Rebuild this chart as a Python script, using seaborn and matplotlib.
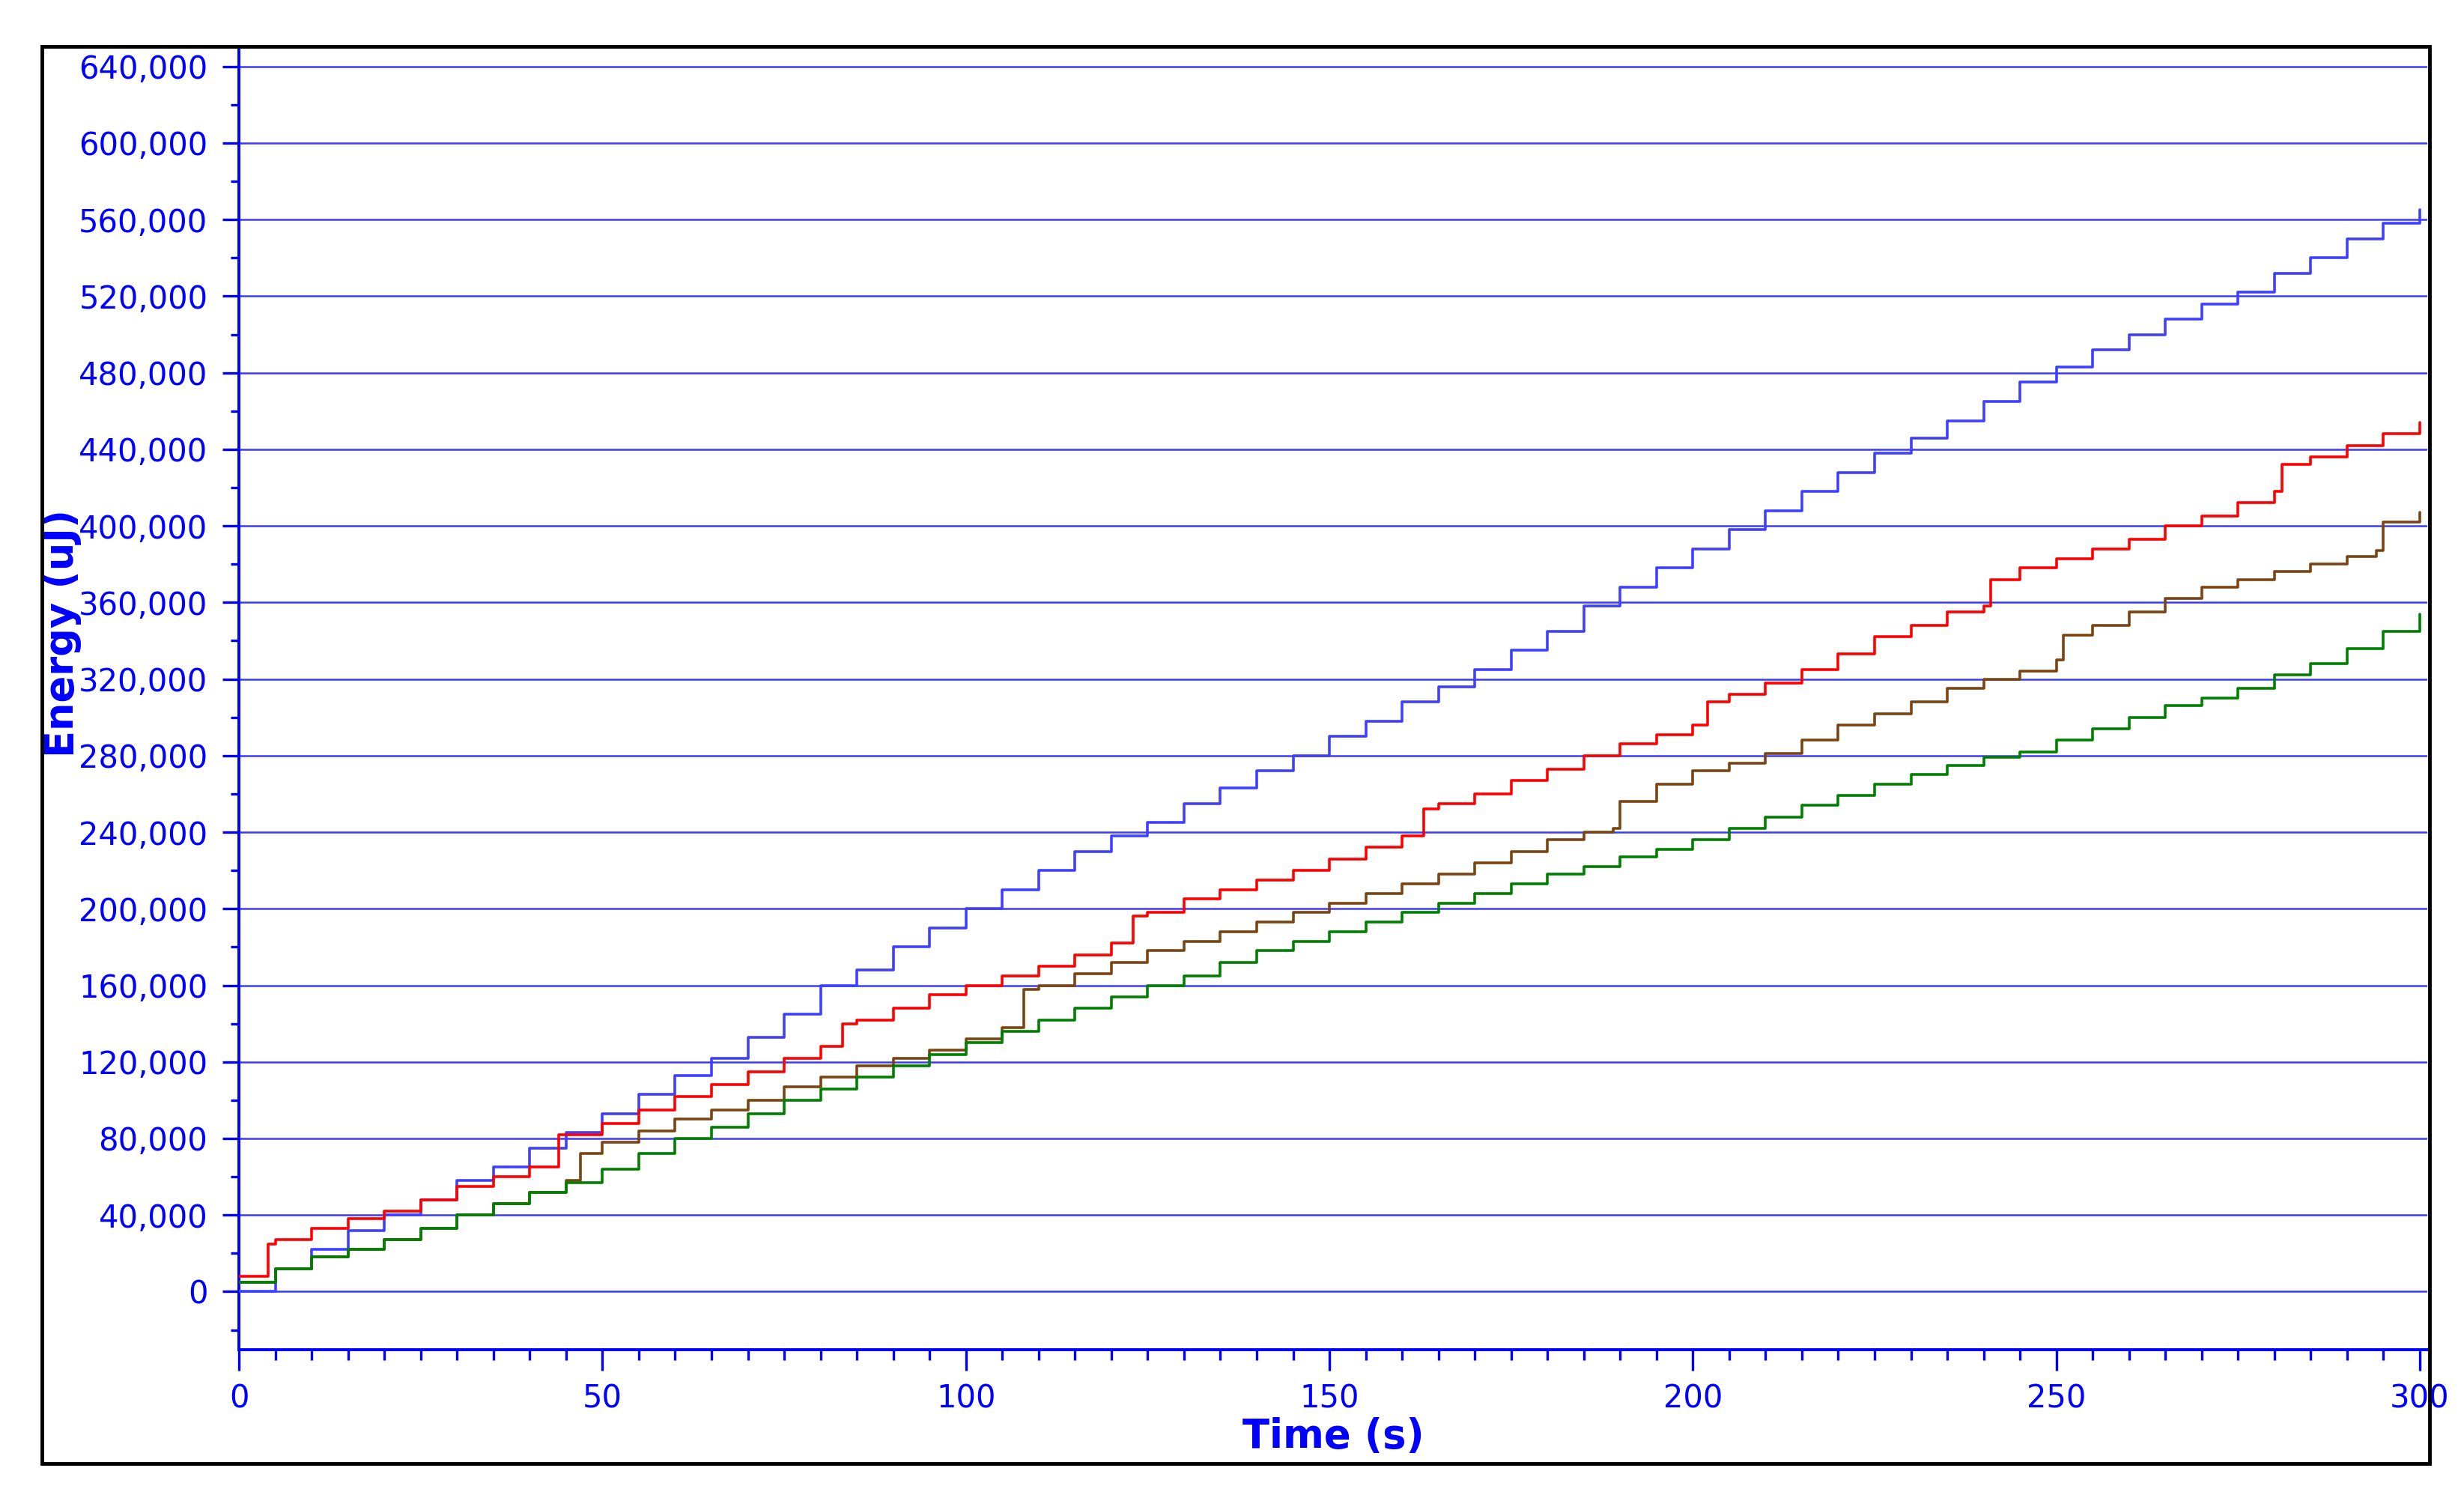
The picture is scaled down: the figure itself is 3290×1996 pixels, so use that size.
import numpy as np
import pandas as pd
import matplotlib
matplotlib.use("Agg")
import matplotlib.pyplot as plt
import matplotlib.ticker as ticker
from matplotlib.patches import Rectangle
import seaborn as sns

# Energy readings (uJ) against time (s)
blue_t = list(range(0, 305, 5))
blue_v = [0, 12000, 22000, 32000, 40000, 48000, 58000, 65000, 75000, 83000,
          93000, 103000, 113000, 122000, 133000, 145000, 160000, 168000, 180000, 190000,
          200000, 210000, 220000, 230000, 238000, 245000, 255000, 263000, 272000, 280000,
          290000, 298000, 308000, 316000, 325000, 335000, 345000, 358000, 368000, 378000,
          388000, 398000, 408000, 418000, 428000, 438000, 446000, 455000, 465000, 475000,
          483000, 492000, 500000, 508000, 516000, 522000, 532000, 540000, 550000, 558000,
          565000]

red_t = [0, 4, 5, 10, 15, 20, 25, 30, 35, 40, 44, 50, 55, 60, 65, 70, 75, 80, 83, 85,
         90, 95, 100, 105, 110, 115, 120, 123, 125, 130, 135, 140, 145, 150, 155, 160, 163,
         165, 170, 175, 180, 185, 190, 195, 200, 202, 205, 210, 215, 220, 225, 230, 235,
         240, 241, 245, 250, 255, 260, 265, 270, 275, 280, 281, 285, 290, 295, 300]
red_v = [8000, 25000, 27000, 33000, 38000, 42000, 48000, 55000, 60000, 65000, 82000,
         88000, 95000, 102000, 108000, 115000, 122000, 128000, 140000, 142000,
         148000, 155000, 160000, 165000, 170000, 176000, 182000, 196000, 198000, 205000,
         210000, 215000, 220000, 226000, 232000, 238000, 252000, 255000, 260000, 267000,
         273000, 280000, 286000, 291000, 296000, 308000, 312000, 318000, 325000, 333000,
         342000, 348000, 355000, 358000, 372000, 378000, 383000, 388000, 393000, 400000,
         405000, 412000, 418000, 432000, 436000, 442000, 448000, 454000]

brown_t = [0, 5, 10, 15, 20, 25, 30, 35, 40, 45, 47, 50, 55, 60, 65, 70, 75, 80, 85, 90,
           95, 100, 105, 108, 110, 115, 120, 125, 130, 135, 140, 145, 150, 155, 160, 165,
           170, 175, 180, 185, 189, 190, 195, 200, 205, 210, 215, 220, 225, 230, 235, 240,
           245, 250, 251, 255, 260, 265, 270, 275, 280, 285, 290, 294, 295, 300]
brown_v = [5000, 12000, 18000, 22000, 27000, 33000, 40000, 46000, 52000, 58000, 72000,
           78000, 84000, 90000, 95000, 100000, 107000, 112000, 118000, 122000,
           126000, 132000, 138000, 158000, 160000, 166000, 172000, 178000, 183000, 188000,
           193000, 198000, 203000, 208000, 213000, 218000, 224000, 230000, 236000, 240000,
           242000, 256000, 265000, 272000, 276000, 281000, 288000, 296000, 302000, 308000,
           315000, 320000, 324000, 330000, 343000, 348000, 355000, 362000, 368000, 372000,
           376000, 380000, 384000, 387000, 402000, 407000]

green_t = list(range(0, 305, 5))
green_v = [5000, 12000, 18000, 22000, 27000, 33000, 40000, 46000, 52000, 57000,
           64000, 72000, 80000, 86000, 93000, 100000, 106000, 112000, 118000, 124000,
           130000, 136000, 142000, 148000, 154000, 160000, 165000, 172000, 178000, 183000,
           188000, 193000, 198000, 203000, 208000, 213000, 218000, 222000, 227000, 231000,
           236000, 242000, 248000, 254000, 259000, 265000, 270000, 275000, 279000, 282000,
           288000, 294000, 300000, 306000, 310000, 315000, 322000, 328000, 336000, 345000,
           354000]

series = [("blue", blue_t, blue_v, "#3f3fff"),
          ("red", red_t, red_v, "#ff0000"),
          ("brown", brown_t, brown_v, "#7b4513"),
          ("green", green_t, green_v, "#008000")]

frames = []
for name, t, v, _ in series:
    frames.append(pd.DataFrame({"Time": t, "Energy": v, "Series": name}))
df = pd.concat(frames, ignore_index=True)
palette = {name: c for name, _, _, c in series}

sns.set_style("white")
plt.rcParams['font.family'] = ['DejaVu Sans']
BLUE = "#0000ff"

fig = plt.figure(figsize=(32.9, 19.96), dpi=100)
ax = fig.add_axes([0.097, 0.097, 0.888, 0.872])

# grid lines first so the data sits on top
for yv in range(0, 640001, 40000):
    ax.axhline(yv, color="#3a3aff", lw=1.8, zorder=1)

sns.lineplot(data=df, x="Time", y="Energy", hue="Series", palette=palette,
             drawstyle="steps-post", lw=2.6, legend=False, ax=ax, zorder=3,
             estimator=None, sort=False)

ax.set_xlim(0, 301)
ax.set_ylim(-30500, 650500)
ax.xaxis.set_major_locator(ticker.MultipleLocator(50))
ax.xaxis.set_minor_locator(ticker.MultipleLocator(5))
ax.yaxis.set_major_locator(ticker.MultipleLocator(40000))
ax.yaxis.set_minor_locator(ticker.MultipleLocator(20000))
ax.yaxis.set_major_formatter(ticker.FuncFormatter(lambda x, _: f"{int(x):,}"))

ax.tick_params(axis="both", which="both", direction="out", colors=BLUE,
               labelcolor=BLUE, labelsize=30, width=2.4, bottom=True, left=True)
ax.tick_params(axis="y", which="major", length=16, pad=14)
ax.tick_params(axis="y", which="minor", length=8)
ax.tick_params(axis="x", which="major", length=20, pad=12)
ax.tick_params(axis="x", which="minor", length=10)

for side in ["top", "right"]:
    ax.spines[side].set_visible(False)
for side in ["left", "bottom"]:
    ax.spines[side].set_color(BLUE)
    ax.spines[side].set_linewidth(2.8)

ax.set_xlabel("Time (s)", color=BLUE, fontsize=38, fontweight="bold", labelpad=2)
ax.set_ylabel("Energy (uJ)", color=BLUE, fontsize=38, fontweight="bold")
ax.yaxis.set_label_coords(-0.072, 0.55)

# black frame around the whole chart
fig.patches.append(Rectangle((0.017, 0.021), 0.969, 0.948, transform=fig.transFigure,
                             fill=False, edgecolor="black", lw=3.5, zorder=0))

fig.savefig("out.png", dpi=100)
